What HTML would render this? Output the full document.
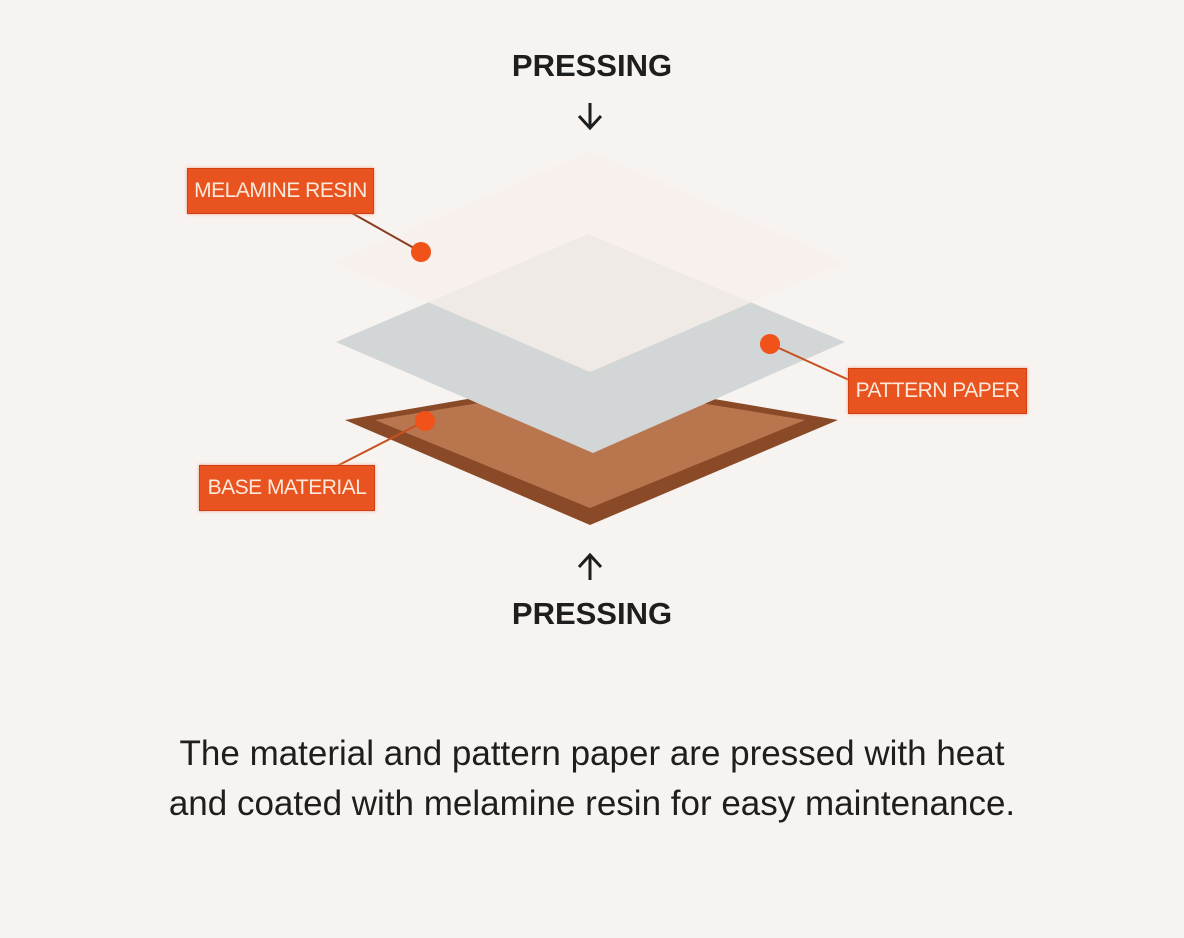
<!DOCTYPE html>
<html><head><style>
body{margin:0;width:1184px;height:938px;background:#f6f3f0;font-family:"Liberation Sans",sans-serif;position:relative;overflow:hidden}
.t{position:absolute;left:0;width:1184px;text-align:center;color:#1e1e1e}
.lab{position:absolute;background:#e9531f;color:#fbe9dc;font-size:21px;display:flex;align-items:center;justify-content:center;border:1px solid #d04010;box-shadow:0 0 3px #f2a080;letter-spacing:-0.5px}
</style></head><body>
<svg width="1184" height="938" style="position:absolute;left:0;top:0">
<polygon points="345,420 590,378 838,420 590,525" fill="#8a4a28"/>
<polygon points="375,420 590,385 805,420 590,508" fill="#b9754e"/>
<polygon points="336,342 588,234 845,342 593,453" fill="#d3d6d6"/>
<polygon points="335,262 590,152 845,262 590,372" fill="#f8efeb" opacity="0.8"/>
<line x1="350" y1="212" x2="421" y2="252" stroke="#8a3a20" stroke-width="2"/>
<line x1="770" y1="344" x2="860" y2="385" stroke="#c85020" stroke-width="2"/>
<line x1="425" y1="421" x2="335" y2="467" stroke="#c85020" stroke-width="2"/>
<circle cx="421" cy="252" r="10" fill="#f0521a"/>
<circle cx="770" cy="344" r="10" fill="#f0521a"/>
<circle cx="425" cy="421" r="10" fill="#f0521a"/>
<path d="M590 103 V127 M579 116 L590 128 L601 116" stroke="#1e1e1e" stroke-width="3" fill="none"/>
<path d="M590 580 V556 M579 567 L590 555 L601 567" stroke="#1e1e1e" stroke-width="3" fill="none"/>
</svg>
<div class="t" style="top:48px;font-size:31px;font-weight:bold">PRESSING</div>
<div class="t" style="top:596px;font-size:31px;font-weight:bold">PRESSING</div>
<div class="lab" style="left:187px;top:168px;width:185px;height:44px">MELAMINE RESIN</div>
<div class="lab" style="left:848px;top:368px;width:177px;height:44px">PATTERN PAPER</div>
<div class="lab" style="left:199px;top:465px;width:174px;height:44px">BASE MATERIAL</div>
<div class="t" style="top:729px;font-size:35px;line-height:50px">The material and pattern paper are pressed with heat<br>and coated with melamine resin for easy maintenance.</div>
</body></html>
